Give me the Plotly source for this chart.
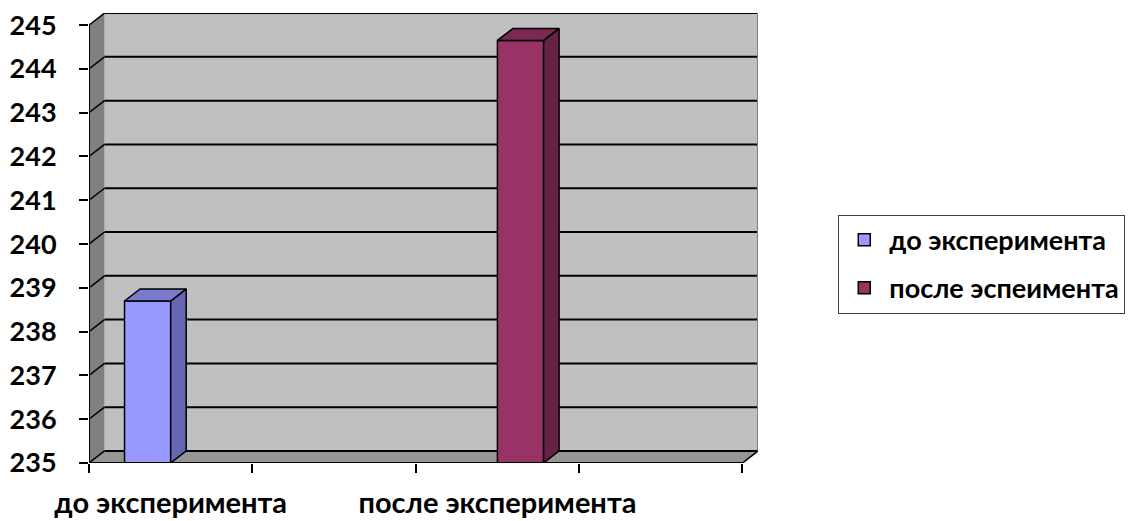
import plotly.graph_objects as go

# ---- data ----
categories = ["до эксперимента", "", "после эксперимента", ""]
series_names = ["до эксперимента", "после эспеимента"]
before_vals = [238.7, None, None, None]
after_vals = [None, None, 244.65, None]
y_ticks = [235, 236, 237, 238, 239, 240, 241, 242, 243, 244, 245]

# ---- style ----
front_colors = ["#9999FF", "#993366"]
side_colors = ["#6666B3", "#662244"]
top_colors = ["#7A7ACC", "#7A2952"]
FONT = "Lato"
DX = 0.095      # depth offset in x units
DY = 0.275      # depth offset in y units
BARGAP = 0.435
YMIN, YMAX = y_ticks[0], y_ticks[-1]
n = len(categories)
xs = list(range(n))
XL, XR = -0.5, n - 0.5

fig = go.Figure()
series = [before_vals, after_vals]
for i, vals in enumerate(series):
    fig.add_trace(go.Bar(
        x=xs, y=vals, name=series_names[i],
        marker=dict(color=front_colors[i], line=dict(color="black", width=1.5)),
        legendgroup=f"g{i}",
    ))

# 3D side and top faces derived from the bar values
w = (1 - BARGAP) / len(series)
for i, vals in enumerate(series):
    for c, v in zip(xs, vals):
        if v is None:
            continue
        left = c - w * len(series) / 2 + i * w
        right = left + w
        fig.add_trace(go.Scatter(
            x=[right, right + DX, right + DX, right, right],
            y=[YMIN, YMIN + DY, v + DY, v, YMIN],
            fill="toself", fillcolor=side_colors[i], mode="lines",
            line=dict(color="black", width=1.5), showlegend=False, hoverinfo="skip"))
        fig.add_trace(go.Scatter(
            x=[left, left + DX, right + DX, right, left],
            y=[v, v + DY, v + DY, v, v],
            fill="toself", fillcolor=top_colors[i], mode="lines",
            line=dict(color="black", width=1.5), showlegend=False, hoverinfo="skip"))

shapes = []
# back wall
shapes.append(dict(type="rect", xref="x", yref="y", x0=XL + DX, x1=XR + DX,
                   y0=YMIN + DY, y1=YMAX + DY, fillcolor="#C0C0C0",
                   line=dict(width=0), layer="below"))
# left wall
shapes.append(dict(type="path", xref="x", yref="y",
                   path=f"M{XL},{YMIN} L{XL+DX},{YMIN+DY} L{XL+DX},{YMAX+DY} L{XL},{YMAX} Z",
                   fillcolor="#808080", line=dict(width=0), layer="below"))
# floor
shapes.append(dict(type="path", xref="x", yref="y",
                   path=f"M{XL},{YMIN} L{XR},{YMIN} L{XR+DX},{YMIN+DY} L{XL+DX},{YMIN+DY} Z",
                   fillcolor="#969696", line=dict(width=0), layer="below"))
# gridlines on walls
for t in y_ticks:
    shapes.append(dict(type="line", xref="x", yref="y", x0=XL + DX, x1=XR + DX,
                       y0=t + DY, y1=t + DY, line=dict(color="black", width=2), layer="below"))
    shapes.append(dict(type="line", xref="x", yref="y", x0=XL, x1=XL + DX,
                       y0=t, y1=t + DY, line=dict(color="black", width=1.5), layer="below"))
# back wall right edge
shapes.append(dict(type="line", xref="x", yref="y", x0=XR + DX, x1=XR + DX,
                   y0=YMIN + DY, y1=YMAX + DY, line=dict(color="#808080", width=2), layer="below"))
# front edges
shapes.append(dict(type="line", xref="x", yref="y", x0=XL, x1=XL, y0=YMIN, y1=YMAX,
                   line=dict(color="black", width=2)))
shapes.append(dict(type="line", xref="x", yref="y", x0=XL, x1=XR, y0=YMIN, y1=YMIN,
                   line=dict(color="black", width=2)))
shapes.append(dict(type="line", xref="x", yref="y", x0=XR, x1=XR + DX, y0=YMIN, y1=YMIN + DY,
                   line=dict(color="black", width=1.5)))

fig.update_layout(
    width=1136, height=521,
    margin=dict(l=89, r=378, t=13, b=58, autoexpand=False),
    paper_bgcolor="white", plot_bgcolor="white",
    barmode="group", bargap=BARGAP, bargroupgap=0,
    shapes=shapes,
    font=dict(family=FONT, color="black"),
    showlegend=True,
    legend=dict(
        x=1.12, xanchor="left", y=0.442, yanchor="middle",
        bordercolor="#404040", borderwidth=1, bgcolor="white",
        font=dict(family=FONT, size=27, color="black", weight="bold"),
        tracegroupgap=10, traceorder="grouped", itemwidth=40,
    ),
    xaxis=dict(
        range=[XL, XR + DX], showgrid=False, zeroline=False, showline=False,
        automargin=False,
        tickmode="array", tickvals=[xs[0], xs[2]], ticktext=[categories[0], categories[2]],
        ticks="", ticklabelstandoff=20,
        tickfont=dict(family=FONT, size=29, color="black", weight="bold"),
        minor=dict(tickmode="array", tickvals=[x - 0.5 for x in xs] + [XR],
                   ticks="outside", ticklen=9, tickwidth=1.5, tickcolor="black",
                   showgrid=False),
        fixedrange=True,
    ),
    yaxis=dict(
        range=[YMIN, YMAX + DY + 0.002], showgrid=False, zeroline=False, showline=False,
        automargin=False,
        tickmode="array", tickvals=y_ticks,
        ticks="outside", ticklen=9, tickwidth=1.5, tickcolor="black",
        ticklabelstandoff=17,
        tickfont=dict(family=FONT, size=27, color="black", weight="bold"),
        fixedrange=True,
    ),
)

fig.write_html("out.html")
